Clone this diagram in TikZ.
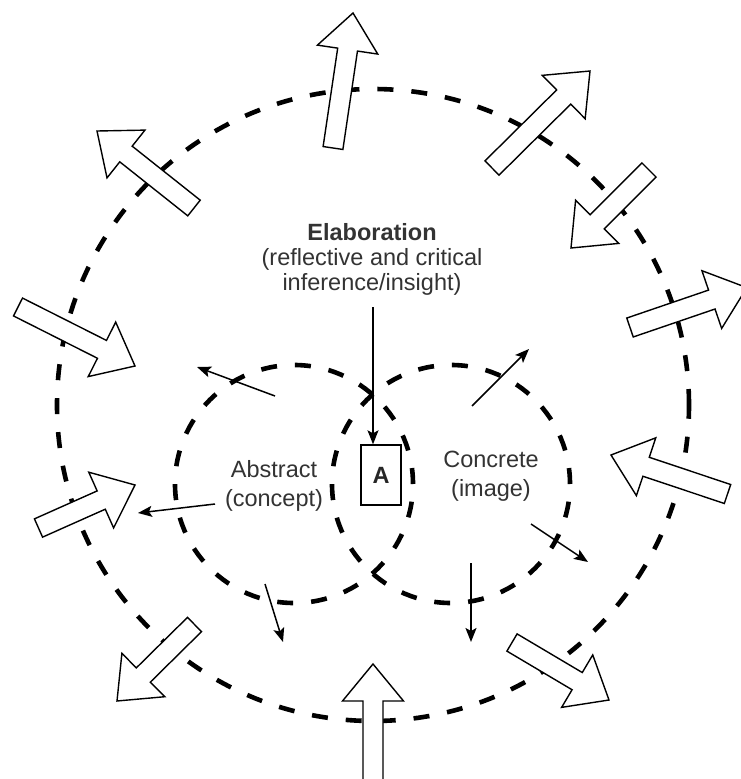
\documentclass[tikz,border=0pt]{standalone}
\usepackage{fontspec}
\setmainfont{Liberation Sans}
\usetikzlibrary{calc,arrows.meta}

\tikzset{
  ring/.style={line width=4.6pt, dash pattern=on 16pt off 18pt},
  thinarrow/.style={line width=1.5pt, -{Stealth[length=14pt,width=11pt,inset=3pt]}},
  hollow/.style={draw=black, fill=white, line width=1.4pt, line join=miter},
  txt/.style={text=black!80, align=center, inner sep=0pt,
              font=\fontsize{23.5}{25}\selectfont},
  pairtxt/.style={txt, font=\fontsize{23.5}{29}\selectfont},
  letterbox/.style={draw=black, fill=white, line width=1.4pt, minimum width=40pt,
              minimum height=60pt, inner sep=0pt, text=black!85,
              font=\fontsize{23.5}{25}\selectfont\bfseries},
}

% Hollow block arrow: #1 name, #2 tail centre, #3 tip
\newcommand\hollowarrow[3]{%
  \coordinate (#1-t) at #2;
  \coordinate (#1-p) at #3;
  \coordinate (#1-h) at ($(#1-p)!37pt!(#1-t)$);
  \draw[hollow]
    ($(#1-t)!10pt!90:(#1-p)$) -- ($(#1-h)!10pt!90:(#1-p)$)
    -- ($(#1-h)!30.5pt!90:(#1-p)$) -- (#1-p)
    -- ($(#1-h)!30.5pt!-90:(#1-p)$) -- ($(#1-h)!10pt!-90:(#1-p)$)
    -- ($(#1-t)!10pt!-90:(#1-p)$) -- cycle;
}

\begin{document}
\begin{tikzpicture}[x=1pt, y=-1pt]
\useasboundingbox[fill=white] (0,0) rectangle (741,779);

% dashed rings
\coordinate (outer) at (373,405);
\coordinate (leftc) at (294,484);
\coordinate (rightc) at (451,484);
\draw[ring] (outer) circle (316pt);
\draw[ring] (leftc) circle (119pt);
\draw[ring] (rightc) circle (119pt);

% hollow arrows around the outer ring
\hollowarrow{top}{(333,148)}{(353,13)}
\hollowarrow{ul}{(194,208)}{(97,131)}
\hollowarrow{ur}{(492,168)}{(590,71)}
\hollowarrow{ri}{(649,170)}{(571,248)}
\hollowarrow{rt}{(630,327.5)}{(746.8,287.6)}
\hollowarrow{lf}{(18,307)}{(135,366)}
\hollowarrow{ll}{(38.5,528)}{(135,485)}
\hollowarrow{rl}{(727.5,494)}{(611,455)}
\hollowarrow{bl}{(194.5,624.5)}{(117,701)}
\hollowarrow{br}{(512,642.5)}{(609,700)}
\hollowarrow{bt}{(373,790)}{(373,664)}

% labels
\node[txt] (elab) at (372,259) {\textbf{Elaboration}\\(reflective and critical\\inference/insight)};
\node[pairtxt] (abs) at (274,485.5) {Abstract\\(concept)};
\node[pairtxt] (con) at (491,476) {Concrete\\(image)};
\node[letterbox] (boxA) at (381,475) {A};

% thin arrows
\coordinate (elabfoot) at (373,307);
\draw[thinarrow] (elabfoot) -- (elabfoot |- boxA.north);

\coordinate (s1) at (275,396);   \coordinate (e1) at (197,367);
\coordinate (s2) at (215,504);   \coordinate (e2) at (138,513);
\coordinate (s3) at (265,584);   \coordinate (e3) at (283,642);
\coordinate (s4) at (471,563);   \coordinate (e4) at (471,642);
\coordinate (s5) at (531,524);   \coordinate (e5) at (588,562);
\coordinate (s6) at (472,406);   \coordinate (e6) at (529,349);
\foreach \i in {1,...,6} \draw[thinarrow] (s\i) -- (e\i);
\end{tikzpicture}
\end{document}
